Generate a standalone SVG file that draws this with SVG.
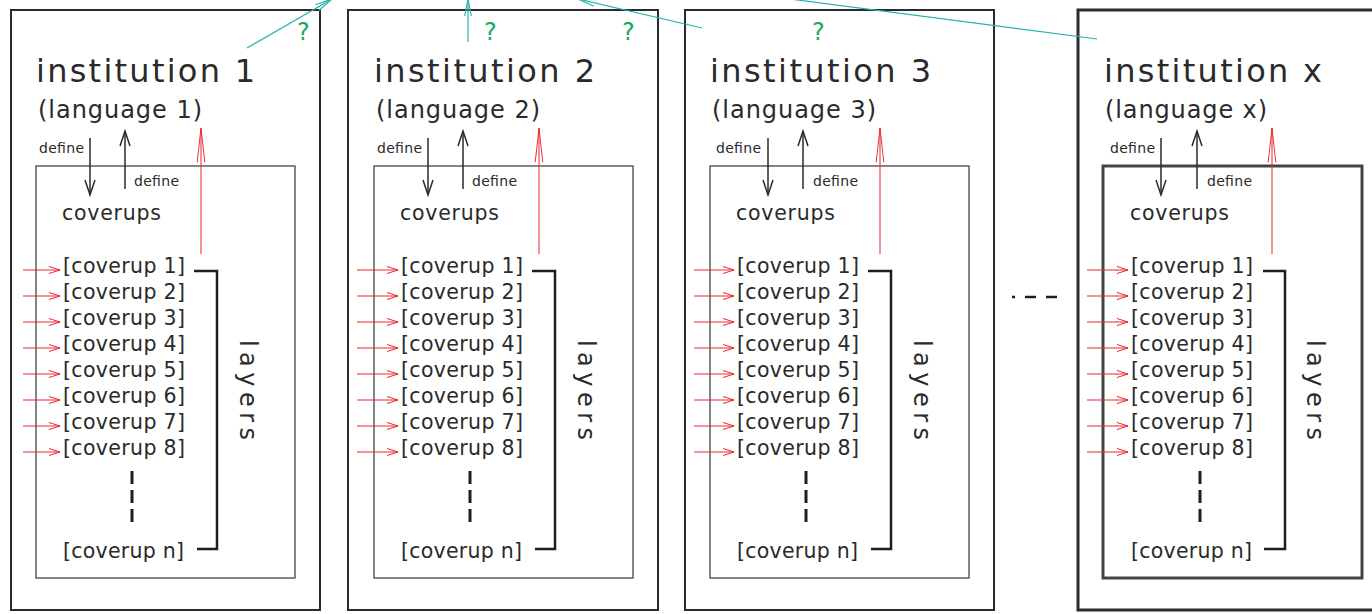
<svg xmlns="http://www.w3.org/2000/svg" width="1372" height="614" viewBox="0 0 1372 614">
<style>
text{font-family:"DejaVu Sans","Liberation Sans",sans-serif;fill:#2a2a2a}
.outer{fill:none;stroke:#2b2b2b;stroke-width:2}
.inner{fill:none;stroke:#444;stroke-width:1.3}
.thick{stroke-width:3}
.title{font-size:32px}
.lang{font-size:24px}
.def{font-size:14px}
.cov{font-size:20.5px}
.lay{font-size:24px}
.q{font-size:24px;fill:#1aa95a}
.blk{stroke:#2a2a2a;stroke-width:1.5;fill:none}
.red{stroke:#e8282f;stroke-width:1;fill:none}
.brk{stroke:#1e1e1e;stroke-width:2.5;fill:none}
.dash{stroke:#1e1e1e;stroke-width:3;stroke-dasharray:13 6;fill:none}
.teal{stroke:#27b3ad;stroke-width:1.2;fill:none}
</style>
<defs>
<marker id="rl" markerUnits="userSpaceOnUse" markerWidth="40" markerHeight="12" refX="0" refY="0" viewBox="-40 -6 42 12" orient="auto" overflow="visible"><path d="M-36,-4 L0,0 L-36,4" fill="none" stroke="#e8282f" stroke-width="1"/></marker>
<marker id="rs" markerUnits="userSpaceOnUse" markerWidth="14" markerHeight="8" refX="0" refY="0" viewBox="-12 -4 13 8" orient="auto" overflow="visible"><path d="M-11,-3.5 L0,0 L-11,3.5" fill="none" stroke="#e8282f" stroke-width="1"/></marker>
<marker id="bk" markerUnits="userSpaceOnUse" markerWidth="18" markerHeight="12" refX="0" refY="0" viewBox="-16 -6 17 12" orient="auto" overflow="visible"><path d="M-15,-5 L0,0 L-15,5" fill="none" stroke="#2a2a2a" stroke-width="1.5"/></marker>
<marker id="tl" markerUnits="userSpaceOnUse" markerWidth="20" markerHeight="10" refX="0" refY="0" viewBox="-20 -5 21 10" orient="auto" overflow="visible"><path d="M-18,-3.5 L0,0 L-18,3.5" fill="none" stroke="#27b3ad" stroke-width="1.2"/></marker>
</defs>

<g id="inst1">
<rect class="outer" x="11" y="10" width="309" height="600"/>
<text class="title" x="36" y="82" textLength="219" lengthAdjust="spacing">institution 1</text>
<text class="lang" x="38" y="118" textLength="164" lengthAdjust="spacing">(language 1)</text>
<rect class="inner" x="36" y="166" width="259" height="412"/>
<text class="def" x="39" y="153" textLength="45" lengthAdjust="spacing">define</text>
<text class="def" x="134" y="186" textLength="45" lengthAdjust="spacing">define</text>
<line class="blk" x1="90" y1="138" x2="90" y2="195" marker-end="url(#bk)"/>
<line class="blk" x1="125" y1="189" x2="125" y2="131" marker-end="url(#bk)"/>
<line class="red" x1="201" y1="254" x2="201" y2="128" marker-end="url(#rl)"/>
<text class="cov" x="62" y="220" textLength="99" lengthAdjust="spacing">coverups</text>
<text class="cov" x="63" y="273" textLength="122" lengthAdjust="spacing">[coverup 1]</text>
<text class="cov" x="63" y="299" textLength="122" lengthAdjust="spacing">[coverup 2]</text>
<text class="cov" x="63" y="325" textLength="122" lengthAdjust="spacing">[coverup 3]</text>
<text class="cov" x="63" y="351" textLength="122" lengthAdjust="spacing">[coverup 4]</text>
<text class="cov" x="63" y="377" textLength="122" lengthAdjust="spacing">[coverup 5]</text>
<text class="cov" x="63" y="403" textLength="122" lengthAdjust="spacing">[coverup 6]</text>
<text class="cov" x="63" y="429" textLength="122" lengthAdjust="spacing">[coverup 7]</text>
<text class="cov" x="63" y="455" textLength="122" lengthAdjust="spacing">[coverup 8]</text>
<text class="cov" x="63" y="558" textLength="121" lengthAdjust="spacing">[coverup n]</text>
<line class="red" x1="23" y1="270" x2="60" y2="270" marker-end="url(#rs)"/>
<line class="red" x1="23" y1="296" x2="60" y2="296" marker-end="url(#rs)"/>
<line class="red" x1="23" y1="322" x2="60" y2="322" marker-end="url(#rs)"/>
<line class="red" x1="23" y1="348" x2="60" y2="348" marker-end="url(#rs)"/>
<line class="red" x1="23" y1="374" x2="60" y2="374" marker-end="url(#rs)"/>
<line class="red" x1="23" y1="400" x2="60" y2="400" marker-end="url(#rs)"/>
<line class="red" x1="23" y1="426" x2="60" y2="426" marker-end="url(#rs)"/>
<line class="red" x1="23" y1="452" x2="60" y2="452" marker-end="url(#rs)"/>
<path class="brk" d="M194,271H217V549H197"/>
<line class="dash" x1="132" y1="471" x2="132" y2="526"/>
<text class="lay" transform="translate(240,340) rotate(90)" textLength="100" lengthAdjust="spacing">layers</text>
</g>

<g id="inst2" transform="translate(338,0)">
<rect class="outer" x="10" y="10" width="310" height="600"/>
<text class="title" x="36" y="82" textLength="221" lengthAdjust="spacing">institution 2</text>
<text class="lang" x="38" y="118" textLength="164" lengthAdjust="spacing">(language 2)</text>
<rect class="inner" x="36" y="166" width="259" height="412"/>
<text class="def" x="39" y="153" textLength="45" lengthAdjust="spacing">define</text>
<text class="def" x="134" y="186" textLength="45" lengthAdjust="spacing">define</text>
<line class="blk" x1="90" y1="138" x2="90" y2="195" marker-end="url(#bk)"/>
<line class="blk" x1="125" y1="189" x2="125" y2="131" marker-end="url(#bk)"/>
<line class="red" x1="201" y1="254" x2="201" y2="128" marker-end="url(#rl)"/>
<text class="cov" x="62" y="220" textLength="99" lengthAdjust="spacing">coverups</text>
<text class="cov" x="63" y="273" textLength="122" lengthAdjust="spacing">[coverup 1]</text>
<text class="cov" x="63" y="299" textLength="122" lengthAdjust="spacing">[coverup 2]</text>
<text class="cov" x="63" y="325" textLength="122" lengthAdjust="spacing">[coverup 3]</text>
<text class="cov" x="63" y="351" textLength="122" lengthAdjust="spacing">[coverup 4]</text>
<text class="cov" x="63" y="377" textLength="122" lengthAdjust="spacing">[coverup 5]</text>
<text class="cov" x="63" y="403" textLength="122" lengthAdjust="spacing">[coverup 6]</text>
<text class="cov" x="63" y="429" textLength="122" lengthAdjust="spacing">[coverup 7]</text>
<text class="cov" x="63" y="455" textLength="122" lengthAdjust="spacing">[coverup 8]</text>
<text class="cov" x="63" y="558" textLength="121" lengthAdjust="spacing">[coverup n]</text>
<line class="red" x1="19" y1="270" x2="60" y2="270" marker-end="url(#rs)"/>
<line class="red" x1="19" y1="296" x2="60" y2="296" marker-end="url(#rs)"/>
<line class="red" x1="19" y1="322" x2="60" y2="322" marker-end="url(#rs)"/>
<line class="red" x1="19" y1="348" x2="60" y2="348" marker-end="url(#rs)"/>
<line class="red" x1="19" y1="374" x2="60" y2="374" marker-end="url(#rs)"/>
<line class="red" x1="19" y1="400" x2="60" y2="400" marker-end="url(#rs)"/>
<line class="red" x1="19" y1="426" x2="60" y2="426" marker-end="url(#rs)"/>
<line class="red" x1="19" y1="452" x2="60" y2="452" marker-end="url(#rs)"/>
<path class="brk" d="M194,271H217V549H197"/>
<line class="dash" x1="132" y1="471" x2="132" y2="526"/>
<text class="lay" transform="translate(240,340) rotate(90)" textLength="100" lengthAdjust="spacing">layers</text>
</g>

<g id="inst3" transform="translate(674,0)">
<rect class="outer" x="11" y="10" width="309" height="600"/>
<text class="title" x="36" y="82" textLength="221" lengthAdjust="spacing">institution 3</text>
<text class="lang" x="38" y="118" textLength="164" lengthAdjust="spacing">(language 3)</text>
<rect class="inner" x="36" y="166" width="259" height="412"/>
<text class="def" x="42" y="153" textLength="45" lengthAdjust="spacing">define</text>
<text class="def" x="139" y="186" textLength="45" lengthAdjust="spacing">define</text>
<line class="blk" x1="94" y1="138" x2="94" y2="195" marker-end="url(#bk)"/>
<line class="blk" x1="129" y1="189" x2="129" y2="131" marker-end="url(#bk)"/>
<line class="red" x1="206" y1="254" x2="206" y2="128" marker-end="url(#rl)"/>
<text class="cov" x="62" y="220" textLength="99" lengthAdjust="spacing">coverups</text>
<text class="cov" x="63" y="273" textLength="122" lengthAdjust="spacing">[coverup 1]</text>
<text class="cov" x="63" y="299" textLength="122" lengthAdjust="spacing">[coverup 2]</text>
<text class="cov" x="63" y="325" textLength="122" lengthAdjust="spacing">[coverup 3]</text>
<text class="cov" x="63" y="351" textLength="122" lengthAdjust="spacing">[coverup 4]</text>
<text class="cov" x="63" y="377" textLength="122" lengthAdjust="spacing">[coverup 5]</text>
<text class="cov" x="63" y="403" textLength="122" lengthAdjust="spacing">[coverup 6]</text>
<text class="cov" x="63" y="429" textLength="122" lengthAdjust="spacing">[coverup 7]</text>
<text class="cov" x="63" y="455" textLength="122" lengthAdjust="spacing">[coverup 8]</text>
<text class="cov" x="63" y="558" textLength="121" lengthAdjust="spacing">[coverup n]</text>
<line class="red" x1="20" y1="270" x2="60" y2="270" marker-end="url(#rs)"/>
<line class="red" x1="20" y1="296" x2="60" y2="296" marker-end="url(#rs)"/>
<line class="red" x1="20" y1="322" x2="60" y2="322" marker-end="url(#rs)"/>
<line class="red" x1="20" y1="348" x2="60" y2="348" marker-end="url(#rs)"/>
<line class="red" x1="20" y1="374" x2="60" y2="374" marker-end="url(#rs)"/>
<line class="red" x1="20" y1="400" x2="60" y2="400" marker-end="url(#rs)"/>
<line class="red" x1="20" y1="426" x2="60" y2="426" marker-end="url(#rs)"/>
<line class="red" x1="20" y1="452" x2="60" y2="452" marker-end="url(#rs)"/>
<path class="brk" d="M194,271H217V549H197"/>
<line class="dash" x1="132" y1="471" x2="132" y2="526"/>
<text class="lay" transform="translate(240,340) rotate(90)" textLength="100" lengthAdjust="spacing">layers</text>
</g>

<g id="ellipsis">
<path d="M1012,297H1015M1025,297H1036M1046,297H1057" stroke="#1e1e1e" stroke-width="2.5" fill="none"/>
</g>

<g id="instx" transform="translate(1067,0)">
<rect class="outer thick" x="11" y="10" width="320" height="600"/>
<text class="title" x="37" y="82" textLength="218" lengthAdjust="spacing">institution x</text>
<text class="lang" x="38" y="118" textLength="162" lengthAdjust="spacing">(language x)</text>
<rect class="inner thick" x="36" y="166" width="259" height="412"/>
<text class="def" x="43" y="153" textLength="45" lengthAdjust="spacing">define</text>
<text class="def" x="140" y="186" textLength="45" lengthAdjust="spacing">define</text>
<line class="blk" x1="94" y1="138" x2="94" y2="195" marker-end="url(#bk)"/>
<line class="blk" x1="130" y1="189" x2="130" y2="131" marker-end="url(#bk)"/>
<line class="red" x1="205" y1="254" x2="205" y2="128" marker-end="url(#rl)"/>
<text class="cov" x="63" y="220" textLength="99" lengthAdjust="spacing">coverups</text>
<text class="cov" x="64" y="273" textLength="122" lengthAdjust="spacing">[coverup 1]</text>
<text class="cov" x="64" y="299" textLength="122" lengthAdjust="spacing">[coverup 2]</text>
<text class="cov" x="64" y="325" textLength="122" lengthAdjust="spacing">[coverup 3]</text>
<text class="cov" x="64" y="351" textLength="122" lengthAdjust="spacing">[coverup 4]</text>
<text class="cov" x="64" y="377" textLength="122" lengthAdjust="spacing">[coverup 5]</text>
<text class="cov" x="64" y="403" textLength="122" lengthAdjust="spacing">[coverup 6]</text>
<text class="cov" x="64" y="429" textLength="122" lengthAdjust="spacing">[coverup 7]</text>
<text class="cov" x="64" y="455" textLength="122" lengthAdjust="spacing">[coverup 8]</text>
<text class="cov" x="64" y="558" textLength="121" lengthAdjust="spacing">[coverup n]</text>
<line class="red" x1="20" y1="270" x2="61" y2="270" marker-end="url(#rs)"/>
<line class="red" x1="20" y1="296" x2="61" y2="296" marker-end="url(#rs)"/>
<line class="red" x1="20" y1="322" x2="61" y2="322" marker-end="url(#rs)"/>
<line class="red" x1="20" y1="348" x2="61" y2="348" marker-end="url(#rs)"/>
<line class="red" x1="20" y1="374" x2="61" y2="374" marker-end="url(#rs)"/>
<line class="red" x1="20" y1="400" x2="61" y2="400" marker-end="url(#rs)"/>
<line class="red" x1="20" y1="426" x2="61" y2="426" marker-end="url(#rs)"/>
<line class="red" x1="20" y1="452" x2="61" y2="452" marker-end="url(#rs)"/>
<path class="brk" d="M196,271H218V549H197"/>
<line class="dash" x1="133" y1="471" x2="133" y2="526"/>
<text class="lay" transform="translate(240,340) rotate(90)" textLength="100" lengthAdjust="spacing">layers</text>
</g>

<g id="connectors">
<line class="teal" x1="247" y1="48" x2="332" y2="-1" marker-end="url(#tl)"/>
<line class="teal" x1="468" y1="42" x2="468" y2="-1" marker-end="url(#tl)"/>
<line class="teal" x1="702" y1="28" x2="578" y2="-1" marker-end="url(#tl)"/>
<line class="teal" x1="1097" y1="39" x2="790" y2="-1"/>
<text class="q" x="297" y="40">?</text>
<text class="q" x="484" y="40">?</text>
<text class="q" x="622" y="40">?</text>
<text class="q" x="812" y="40">?</text>
</g>
</svg>
